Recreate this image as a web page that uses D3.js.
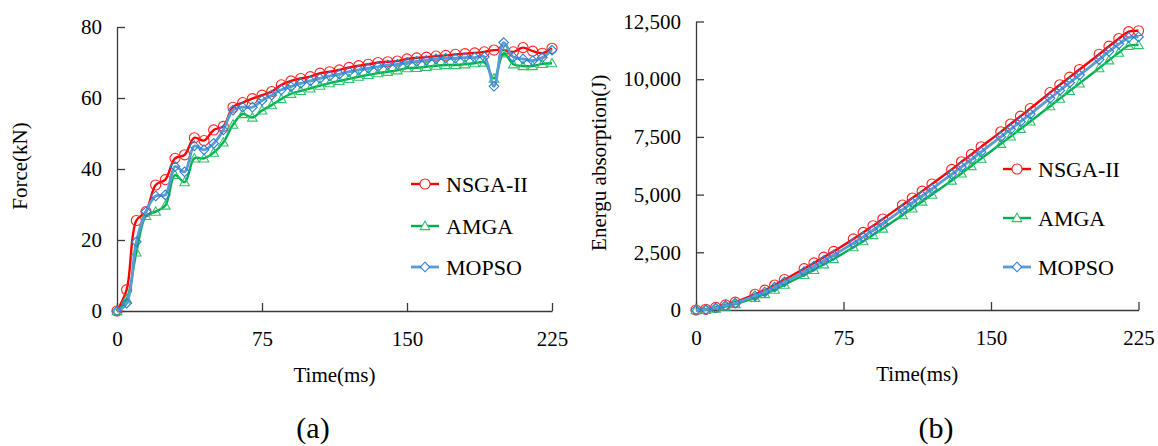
<!DOCTYPE html>
<html>
<head>
<meta charset="utf-8">
<script src="https://cdn.jsdelivr.net/npm/d3@7"></script>
<style>
  body { margin: 0; background: #fff; }
  svg text { font-family: "Liberation Serif", serif; fill: #000; }
</style>
</head>
<body>
<svg id="fig" width="1158" height="446" font-family="Liberation Serif"></svg>
<script>
// ---- data -------------------------------------------------------------
const seriesNames = ["NSGA-II", "AMGA", "MOPSO"];

// (a) crushing force, kN, sampled every 5 ms
const forceTime = [0,5,10,15,20,25,30,35,40,45,50,55,60,65,70,75,80,85,90,95,
  100,105,110,115,120,125,130,135,140,145,150,155,160,165,170,175,180,185,190,195,
  200,205,210,215,220,225];
const forceNSGA = [0,6,25.5,28,35.5,37,43,44,48.8,48,51,52,57.4,58.7,59.8,60.8,61.8,63.7,64.8,65.5,
  66,67,67.4,67.9,68.6,69.1,69.5,70,70.2,70.4,71,71.3,71.5,71.8,72,72.3,72.5,72.7,73,73.5,
  73.5,73,74.2,73.2,72.6,74];
const forceAMGA = [0,3.3,16.5,26.8,28,29.7,38.3,36.3,43,43,44.6,47.5,52.5,55.5,54.5,56.5,58,59.7,61.2,62,
  62.7,63.5,64.2,64.8,65.4,66,66.5,67,67.4,67.8,68.4,68.5,68.8,69.1,69.3,69.3,69.5,69.8,70,65.5,
  72.6,69.5,69,69,69.6,69.8];
const forceMOPSO = [0,2.2,19.5,28,32.4,32.7,40.7,39.2,46.5,45.4,47.2,51,56.6,57.4,57.4,59.3,60.8,62.3,63.2,64.1,
  64.8,65.5,66.2,66.7,67.4,67.9,68.4,68.8,69.3,69.5,70,70.3,70.6,71,71.2,71.2,71.4,71.4,71.6,63.3,
  75.6,71.5,71,70.5,71.4,73.5];

// (b) absorbed energy, J
const energyTime = [0,5,10,15,20,30,35,40,45,55,60,65,70,80,85,90,95,105,110,115,
  120,130,135,140,145,155,160,165,170,180,185,190,195,205,210,215,220,225];
const energyNSGA = [0,30,110,220,340,680,860,1080,1320,1790,2040,2290,2540,3080,3360,3650,3940,4550,4850,5150,
  5460,6090,6420,6740,7070,7720,8060,8400,8730,9420,9760,10090,10420,11080,11430,11760,12060,12100];
const energyAMGA = [0,10,60,150,260,530,690,880,1100,1520,1740,1980,2210,2720,2980,3250,3530,4110,4400,4700,
  5000,5610,5920,6240,6560,7200,7520,7850,8170,8830,9160,9490,9820,10480,10820,11150,11450,11480];
const energyMOPSO = [0,20,90,190,300,610,780,990,1220,1660,1900,2140,2380,2900,3170,3460,3750,4350,4650,4950,
  5250,5880,6200,6520,6850,7500,7830,8160,8490,9170,9510,9850,10180,10850,11200,11520,11800,11830];

const timeTicks = [0, 75, 150, 225];
const forceTicks = [0, 20, 40, 60, 80];
const energyTicks = [0, 2500, 5000, 7500, 10000, 12500];

// ---- styles -----------------------------------------------------------
const styles = [
  { line: "#ff0000", lineWidth: 2.4, mark: "#ff2020", shape: "circle" },
  { line: "#00b050", lineWidth: 2.4, mark: "#2cc36b", shape: "triangle" },
  { line: "#5b9bd5", lineWidth: 2.8, mark: "#2a7fd4", shape: "diamond" }
];

const svg = d3.select("#fig");
const FONT = 21;
const SERIF = "Liberation Serif";

function markerPath(shape) {
  if (shape === "circle") return d3.symbol(d3.symbolCircle, 80)();
  if (shape === "triangle") return "M0,-4.8L4.8,3.6L-4.8,3.6Z";
  return "M0,-4.8L4.8,0L0,4.8L-4.8,0Z";
}

function drawPanel(p) {
  const x = d3.scaleLinear().domain([0, 225]).range([p.left, p.right]);
  const y = d3.scaleLinear().domain(p.yDomain).range([p.bottom, p.top]);
  const g = svg.append("g");

  // axes (ticks point into the plot)
  const xAxis = d3.axisBottom(x).tickValues(timeTicks).tickSizeInner(-8).tickSizeOuter(0).tickPadding(20);
  const yAxis = d3.axisLeft(y).tickValues(p.yTicks).tickSizeInner(-8).tickSizeOuter(0).tickPadding(15)
    .tickFormat(p.yFormat);
  const gx = g.append("g").attr("transform", `translate(0,${p.bottom})`).call(xAxis);
  const gy = g.append("g").attr("transform", `translate(${p.left},0)`).call(yAxis);
  [gx, gy].forEach(a => {
    a.attr("font-family", SERIF).attr("font-size", FONT);
    a.selectAll("path.domain").attr("stroke", "#3a3a3a").attr("stroke-width", 1.3);
    a.selectAll(".tick line").attr("stroke", "#3a3a3a").attr("stroke-width", 1.3);
    a.selectAll(".tick text").attr("font-size", FONT).attr("font-family", SERIF)
      .style("font-family", SERIF).attr("fill", "#000");
  });

  // axis titles
  g.append("text").attr("x", (p.left + p.right) / 2).attr("y", p.bottom + 71)
    .attr("text-anchor", "middle").attr("font-size", FONT).text("Time(ms)");
  g.append("text")
    .attr("transform", `translate(${p.yTitleX},${(p.top + p.bottom) / 2 - 3}) rotate(-90)`)
    .attr("text-anchor", "middle").attr("dominant-baseline", "middle")
    .attr("font-size", FONT).text(p.yTitle);

  // panel caption
  g.append("text").attr("x", p.captionX).attr("y", 438)
    .attr("text-anchor", "middle").attr("font-size", 30).text(p.caption);

  // series: smoothed line plus hollow markers
  const line = d3.line().x(d => x(d.t)).y(d => y(d.v)).curve(d3.curveCatmullRom.alpha(0.5));
  p.series.forEach((vals, i) => {
    const st = styles[i];
    const pts = p.times.map((t, k) => ({ t, v: vals[k] }));
    const sg = g.append("g");
    sg.append("path").datum(pts).attr("d", line)
      .attr("fill", "none").attr("stroke", st.line).attr("stroke-width", st.lineWidth)
      .attr("stroke-linejoin", "round");
    sg.selectAll("path.mk").data(pts).join("path").attr("class", "mk")
      .attr("d", markerPath(st.shape))
      .attr("transform", d => `translate(${x(d.t)},${y(d.v)})`)
      .attr("fill", "none").attr("stroke", st.mark).attr("stroke-width", 1.1);
  });

  // legend
  seriesNames.forEach((name, i) => {
    const st = styles[i];
    const ly = p.legendY[i];
    const lg = g.append("g").attr("transform", `translate(${p.legendX},${ly})`);
    lg.append("line").attr("x1", 0).attr("x2", 28).attr("y1", 0).attr("y2", 0)
      .attr("stroke", st.line).attr("stroke-width", st.lineWidth);
    lg.append("path").attr("d", markerPath(st.shape)).attr("transform", "translate(14,0)")
      .attr("fill", "#fff").attr("stroke", st.mark).attr("stroke-width", 1.1);
    lg.append("text").attr("x", 35).attr("y", 0).attr("dominant-baseline", "central")
      .attr("font-size", 22).text(name);
  });
}

drawPanel({
  left: 117, right: 552, top: 27, bottom: 311,
  yDomain: [0, 80], yTicks: forceTicks, yFormat: d3.format("d"),
  yTitle: "Force(kN)", yTitleX: 22,
  caption: "(a)", captionX: 313,
  times: forceTime, series: [forceNSGA, forceAMGA, forceMOPSO],
  legendX: 411, legendY: [184, 226, 267]
});

drawPanel({
  left: 696, right: 1138.5, top: 21.5, bottom: 310,
  yDomain: [0, 12500], yTicks: energyTicks, yFormat: d3.format(","),
  yTitle: "Energu absorption(J)", yTitleX: 601,
  caption: "(b)", captionX: 936,
  times: energyTime, series: [energyNSGA, energyAMGA, energyMOPSO],
  legendX: 1003, legendY: [169, 218, 267]
});
</script>
</body>
</html>
